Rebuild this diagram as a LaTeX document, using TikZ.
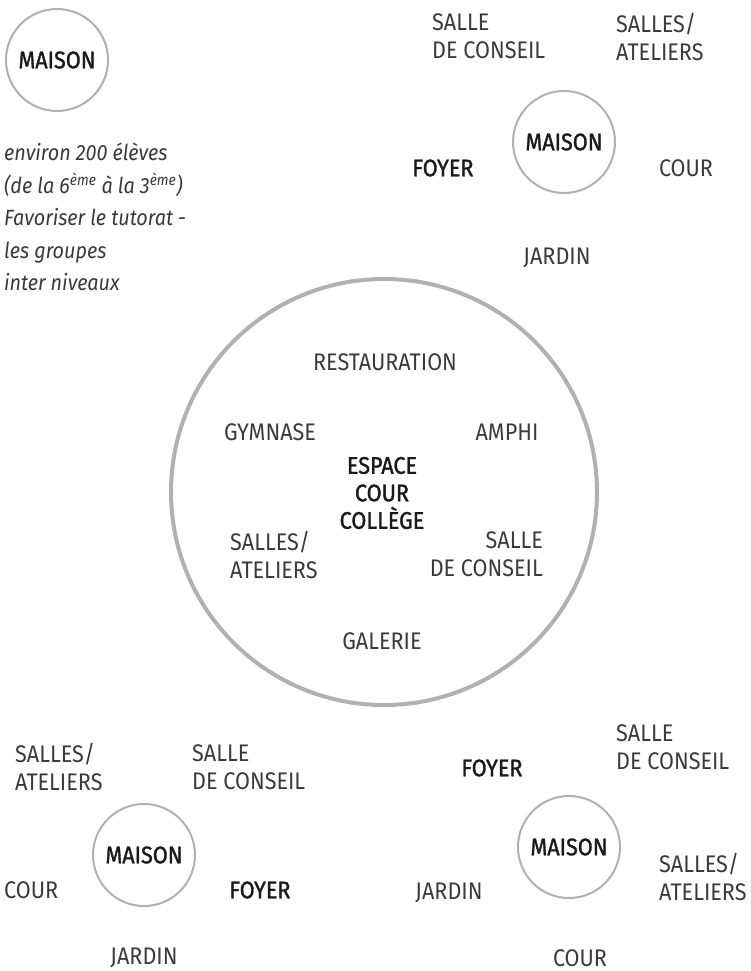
\documentclass[tikz,border=0pt]{standalone}
\usepackage{fontspec}
\setmainfont{Fira Sans}[FakeStretch=0.9]
\newfontfamily\hubfont{Fira Sans}[FakeStretch=0.9,FakeBold=1.4]
\usepackage{tikz}
\usetikzlibrary{positioning}
\definecolor{RingGray}{HTML}{B1B1B5}
\definecolor{InkGray}{HTML}{3A3A3A}
\definecolor{InkDark}{HTML}{1A1A1A}

\begin{document}
\begin{tikzpicture}[x=1pt,y=-1pt,
house/.style={circle,draw=RingGray,line width=2pt,minimum size=102pt,inner sep=0pt,font=\fontsize{24}{28}\hubfont,text=InkDark},
ring/.style={circle,draw=RingGray,line width=4pt,minimum size=426pt,inner sep=0pt},
room/.style={inner sep=0pt,font=\fontsize{24}{28}\selectfont,text=InkGray},
roomL/.style={room,anchor=west,align=left},
roomR/.style={room,anchor=east,align=right},
hub/.style={inner sep=0pt,font=\fontsize{24}{27.5}\hubfont,text=InkDark,align=center},
note/.style={inner sep=0pt,anchor=west,align=left,font=\fontsize{22}{32.5}\selectfont\itshape,text=InkGray}
]
\useasboundingbox (0,0) rectangle (750,971);

% Top left: house and legend
\node[house] (maisonA) at (57,60) {MAISON};
\node[note] (legend) at (4,217) {environ 200 élèves\\(de la 6\textsuperscript{ème} à la 3\textsuperscript{ème})\\Favoriser le tutorat -\\les groupes\\inter niveaux};

% Top right house
\node[house] (maisonB) at (564,142) {MAISON};
\node[roomL] (salleB) at (432,36.5) {SALLE\\DE CONSEIL};
\node[roomL] (atelB) at (616,36.5) {SALLES/\\ATELIERS};
\node[hub] (foyerB) at (443,168) {FOYER};
\node[room] (courB) at (686,168) {COUR};
\node[room] (jardinB) at (557,258) {JARDIN};

% Central college space
\node[ring] (college) at (384,492) {};
\node[hub] (espace) at (382,493) {ESPACE\\COUR\\COLLÈGE};
\node[room] (restau) at (385,362) {RESTAURATION};
\node[room] (gym) at (270,432) {GYMNASE};
\node[room] (amphi) at (507,432) {AMPHI};
\node[roomL] (atelC) at (230,554.5) {SALLES/\\ATELIERS};
\node[roomR] (salleC) at (543,554.5) {SALLE\\DE CONSEIL};
\node[room] (galerie) at (382,641) {GALERIE};

% Bottom left house
\node[house] (maisonC) at (144,855) {MAISON};
\node[roomL] (atelD) at (15,767) {SALLES/\\ATELIERS};
\node[roomL] (salleD) at (192,767) {SALLE\\DE CONSEIL};
\node[roomL] (courD) at (4,890) {COUR};
\node[hub] (foyerD) at (260,890) {FOYER};
\node[room] (jardinD) at (144,958) {JARDIN};

% Bottom right house
\node[house] (maisonD) at (569,847) {MAISON};
\node[hub] (foyerE) at (492,768) {FOYER};
\node[roomL] (salleE) at (616,747) {SALLE\\DE CONSEIL};
\node[roomL] (atelE) at (659,877) {SALLES/\\ATELIERS};
\node[room] (jardinE) at (449,893) {JARDIN};
\node[room] (courE) at (580,958) {COUR};
\end{tikzpicture}
\end{document}
